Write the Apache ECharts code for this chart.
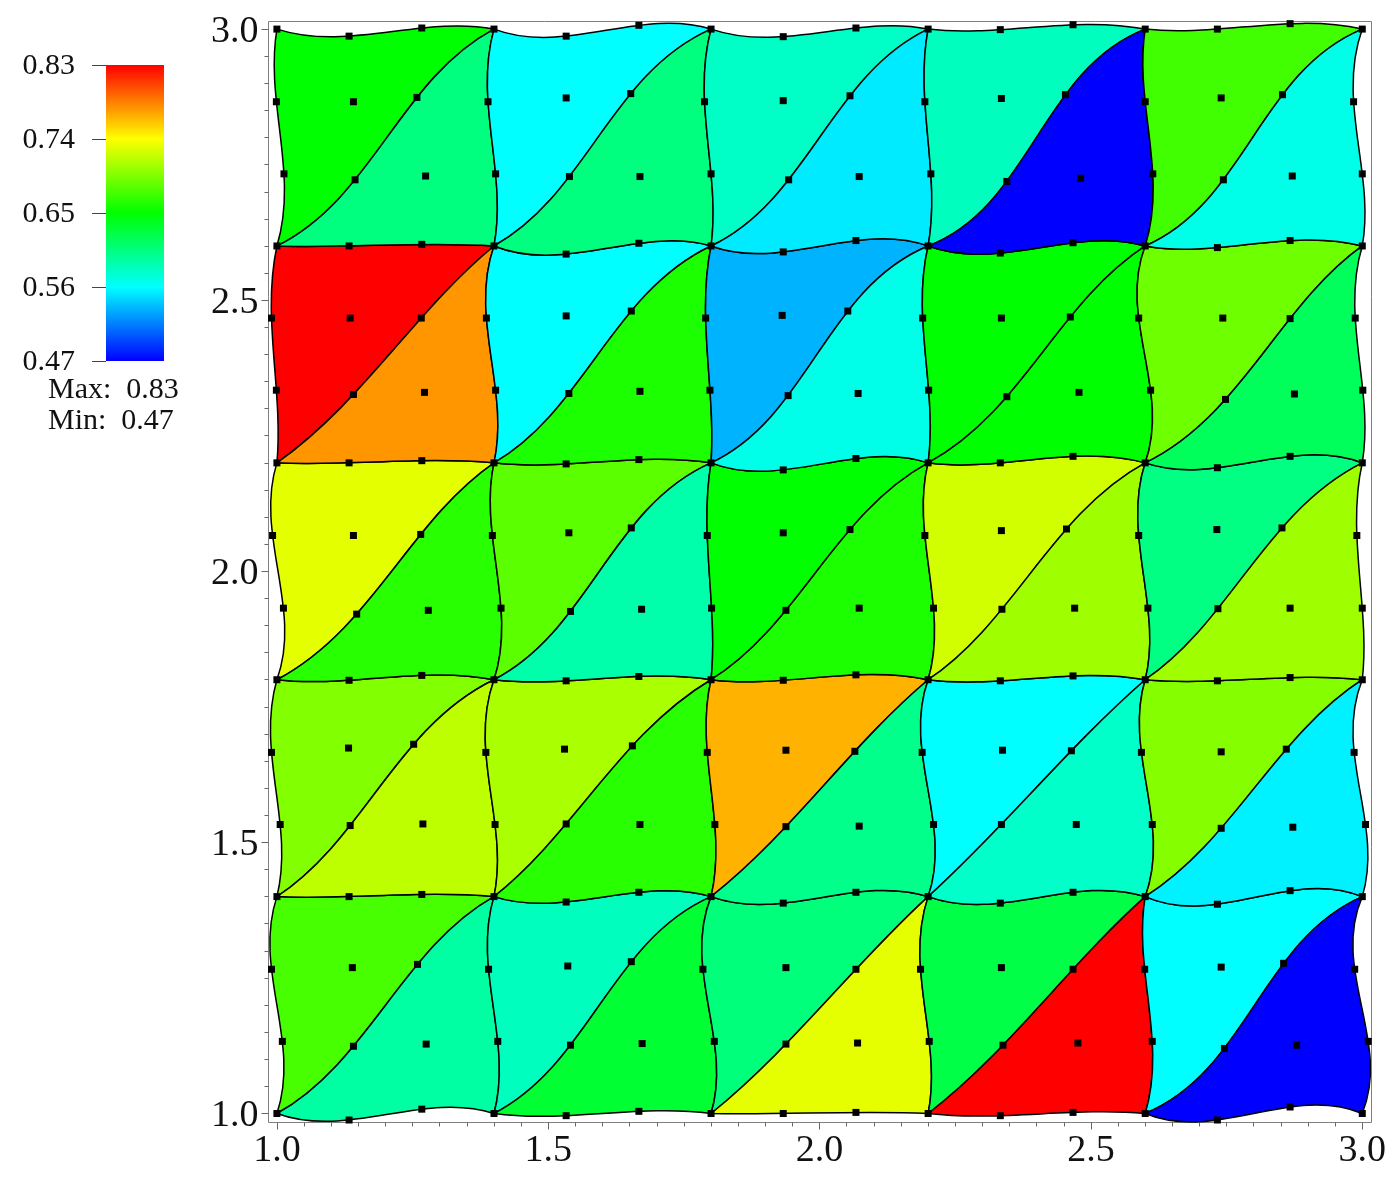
<!DOCTYPE html>
<html lang="en">
<head>
  <meta charset="utf-8"/>
  <title>Cubic triangle mesh</title>
  <script src="https://cdn.jsdelivr.net/npm/echarts@6/dist/echarts.min.js"></script>
  <style>
    html, body { margin: 0; padding: 0; background: #fff; }
  </style>
</head>
<body>
<div id="main" style="width: 1400px;height: 1177px"></div>
<script type="text/javascript">
  // mesh nodes, bottom row first, 16 x 16
  var nodeX = [
    [1.000, 1.133, 1.267, 1.400, 1.533, 1.667, 1.800, 1.933, 2.067, 2.200, 2.333, 2.467, 2.600, 2.733, 2.867, 3.000],
    [1.010, 1.141, 1.275, 1.407, 1.541, 1.673, 1.806, 1.938, 2.070, 2.202, 2.338, 2.476, 2.613, 2.746, 2.879, 3.011],
    [0.990, 1.139, 1.259, 1.390, 1.536, 1.653, 1.785, 1.938, 2.067, 2.186, 2.335, 2.467, 2.599, 2.740, 2.855, 2.986],
    [1.000, 1.133, 1.267, 1.400, 1.533, 1.667, 1.800, 1.933, 2.067, 2.200, 2.333, 2.467, 2.600, 2.733, 2.867, 3.000],
    [1.006, 1.135, 1.269, 1.402, 1.533, 1.669, 1.807, 1.938, 2.073, 2.210, 2.335, 2.473, 2.613, 2.740, 2.872, 3.006],
    [0.990, 1.132, 1.252, 1.385, 1.530, 1.655, 1.793, 1.938, 2.065, 2.189, 2.337, 2.464, 2.593, 2.740, 2.860, 2.985],
    [1.000, 1.133, 1.267, 1.400, 1.533, 1.667, 1.800, 1.933, 2.067, 2.200, 2.333, 2.467, 2.600, 2.733, 2.867, 3.000],
    [1.012, 1.147, 1.279, 1.413, 1.541, 1.672, 1.801, 1.938, 2.073, 2.210, 2.336, 2.470, 2.605, 2.734, 2.867, 3.000],
    [0.992, 1.141, 1.265, 1.397, 1.538, 1.653, 1.793, 1.933, 2.056, 2.194, 2.335, 2.455, 2.588, 2.732, 2.852, 2.990],
    [1.000, 1.133, 1.267, 1.400, 1.533, 1.667, 1.800, 1.933, 2.067, 2.200, 2.333, 2.467, 2.600, 2.733, 2.867, 3.000],
    [0.999, 1.141, 1.272, 1.403, 1.538, 1.669, 1.798, 1.942, 2.071, 2.201, 2.345, 2.478, 2.610, 2.748, 2.875, 3.001],
    [0.990, 1.135, 1.266, 1.386, 1.533, 1.653, 1.790, 1.931, 2.052, 2.190, 2.335, 2.462, 2.588, 2.743, 2.867, 2.987],
    [1.000, 1.133, 1.267, 1.400, 1.533, 1.667, 1.800, 1.933, 2.067, 2.200, 2.333, 2.467, 2.600, 2.733, 2.867, 3.000],
    [1.013, 1.144, 1.274, 1.403, 1.539, 1.669, 1.800, 1.943, 2.073, 2.205, 2.345, 2.481, 2.614, 2.744, 2.871, 3.000],
    [0.999, 1.141, 1.258, 1.389, 1.533, 1.652, 1.788, 1.933, 2.056, 2.194, 2.335, 2.453, 2.600, 2.740, 2.853, 2.984],
    [1.000, 1.133, 1.267, 1.400, 1.533, 1.667, 1.800, 1.933, 2.067, 2.200, 2.333, 2.467, 2.600, 2.733, 2.867, 3.000]
  ];
  var nodeY = [
    [1.000, 0.988, 1.008, 1.000, 0.996, 1.004, 1.000, 1.000, 1.002, 1.000, 0.996, 1.002, 1.000, 0.988, 1.012, 1.000],
    [1.133, 1.124, 1.128, 1.133, 1.126, 1.129, 1.133, 1.128, 1.130, 1.133, 1.126, 1.130, 1.133, 1.120, 1.126, 1.133],
    [1.266, 1.269, 1.275, 1.266, 1.272, 1.280, 1.266, 1.269, 1.266, 1.266, 1.269, 1.266, 1.266, 1.270, 1.277, 1.266],
    [1.400, 1.400, 1.404, 1.400, 1.390, 1.408, 1.400, 1.388, 1.408, 1.400, 1.388, 1.408, 1.400, 1.386, 1.411, 1.400],
    [1.533, 1.531, 1.534, 1.533, 1.534, 1.533, 1.533, 1.529, 1.530, 1.533, 1.533, 1.533, 1.533, 1.526, 1.528, 1.533],
    [1.666, 1.674, 1.681, 1.666, 1.672, 1.678, 1.666, 1.670, 1.668, 1.666, 1.670, 1.669, 1.666, 1.667, 1.672, 1.666],
    [1.800, 1.799, 1.808, 1.800, 1.798, 1.806, 1.800, 1.799, 1.809, 1.800, 1.798, 1.807, 1.800, 1.798, 1.804, 1.800],
    [1.932, 1.921, 1.928, 1.932, 1.926, 1.930, 1.932, 1.928, 1.932, 1.932, 1.930, 1.932, 1.932, 1.931, 1.932, 1.932],
    [2.066, 2.066, 2.068, 2.066, 2.071, 2.080, 2.066, 2.071, 2.077, 2.066, 2.075, 2.078, 2.066, 2.077, 2.080, 2.066],
    [2.200, 2.200, 2.204, 2.200, 2.198, 2.206, 2.200, 2.187, 2.208, 2.200, 2.200, 2.212, 2.200, 2.191, 2.212, 2.200],
    [2.334, 2.326, 2.330, 2.334, 2.328, 2.332, 2.334, 2.324, 2.328, 2.334, 2.322, 2.330, 2.334, 2.317, 2.327, 2.334],
    [2.467, 2.467, 2.467, 2.467, 2.471, 2.480, 2.467, 2.472, 2.480, 2.467, 2.467, 2.469, 2.467, 2.467, 2.466, 2.467],
    [2.600, 2.600, 2.603, 2.600, 2.585, 2.605, 2.600, 2.589, 2.610, 2.600, 2.587, 2.606, 2.600, 2.597, 2.610, 2.600],
    [2.733, 2.722, 2.729, 2.733, 2.728, 2.728, 2.733, 2.722, 2.728, 2.733, 2.719, 2.725, 2.733, 2.722, 2.729, 2.733],
    [2.866, 2.866, 2.874, 2.866, 2.873, 2.881, 2.866, 2.868, 2.877, 2.866, 2.872, 2.879, 2.866, 2.873, 2.879, 2.866],
    [3.000, 2.987, 3.002, 3.000, 2.987, 3.007, 3.000, 2.986, 3.002, 3.000, 2.999, 3.008, 3.000, 3.000, 3.010, 3.000]
  ];
  // element values, bottom row of squares first, [upper-left, lower-right] per square
  var upperValues = [
    [0.675, 0.583, 0.607, 0.625, 0.560],
    [0.696, 0.710, 0.767, 0.560, 0.697],
    [0.730, 0.682, 0.650, 0.724, 0.604],
    [0.830, 0.560, 0.533, 0.650, 0.689],
    [0.650, 0.560, 0.580, 0.583, 0.673]
  ];
  var lowerValues = [
    [0.593, 0.632, 0.731, 0.830, 0.470],
    [0.717, 0.664, 0.601, 0.579, 0.555],
    [0.664, 0.590, 0.660, 0.706, 0.706],
    [0.777, 0.660, 0.568, 0.650, 0.618],
    [0.605, 0.605, 0.553, 0.470, 0.568]
  ];
  var majorTicks = [1.0, 1.5, 2.0, 2.5, 3.0];
  var minorTicks = [1.0, 1.05, 1.1, 1.15, 1.2, 1.25, 1.3, 1.35, 1.4, 1.45, 1.5, 1.55, 1.6, 1.65, 1.7, 1.75, 1.8, 1.85, 1.9, 1.95,
    2.0, 2.05, 2.1, 2.15, 2.2, 2.25, 2.3, 2.35, 2.4, 2.45, 2.5, 2.55, 2.6, 2.65, 2.7, 2.75, 2.8, 2.85, 2.9, 2.95, 3.0];
  var barTicks = [0.47, 0.56, 0.65, 0.74, 0.83];
  var rampColors = ['#0000ff', '#00ffff', '#00ff00', '#ffff00', '#ff0000'];
  var minValue = 0.47;
  var maxValue = 0.83;

  var font = '"Liberation Serif", serif';
  var myChart = echarts.init(document.getElementById('main'));

  // one item per triangle: [col, row, isUpper, value]
  var triangles = [];
  for (var r = 0; r < 5; r++) {
    for (var c = 0; c < 5; c++) {
      triangles.push([c, r, 1, upperValues[r][c]]);
      triangles.push([c, r, 0, lowerValues[r][c]]);
    }
  }
  var points = [];
  for (var j = 0; j < 16; j++) {
    for (var i = 0; i < 16; i++) {
      points.push([nodeX[j][i], nodeY[j][i]]);
    }
  }

  // cubic edge through 4 nodes (at t = 0, 1/3, 2/3, 1) as a bezier segment, start point already drawn
  function edge(p) {
    var c1x = (-5 * p[0][0] + 18 * p[1][0] - 9 * p[2][0] + 2 * p[3][0]) / 6;
    var c1y = (-5 * p[0][1] + 18 * p[1][1] - 9 * p[2][1] + 2 * p[3][1]) / 6;
    var c2x = (2 * p[0][0] - 9 * p[1][0] + 18 * p[2][0] - 5 * p[3][0]) / 6;
    var c2y = (2 * p[0][1] - 9 * p[1][1] + 18 * p[2][1] - 5 * p[3][1]) / 6;
    return 'C' + c1x + ' ' + c1y + ' ' + c2x + ' ' + c2y + ' ' + p[3][0] + ' ' + p[3][1];
  }

  function renderTriangle(params, api) {
    var a = api.value(0) * 3;
    var b = api.value(1) * 3;
    var upper = api.value(2) === 1;
    var node = function (i, j) {
      return api.coord([nodeX[b + j][a + i], nodeY[b + j][a + i]]);
    };
    var diag = [node(0, 0), node(1, 1), node(2, 2), node(3, 3)];
    var d = 'M' + diag[0][0] + ' ' + diag[0][1] + edge(diag);
    if (upper) {
      d += edge([node(3, 3), node(2, 3), node(1, 3), node(0, 3)]);
      d += edge([node(0, 3), node(0, 2), node(0, 1), node(0, 0)]);
    } else {
      d += edge([node(3, 3), node(3, 2), node(3, 1), node(3, 0)]);
      d += edge([node(3, 0), node(2, 0), node(1, 0), node(0, 0)]);
    }
    return {
      type: 'path',
      shape: { pathData: d + 'Z' },
      style: { fill: api.visual('color'), stroke: '#000', lineWidth: 1.5 }
    };
  }

  // colour bar, the visualMap's own bar has rounded corners
  function renderBar(params, api) {
    var p0 = api.coord([0, api.value(0)]);
    var p1 = api.coord([1, api.value(1)]);
    var stops = rampColors.map(function (col, k) {
      return { offset: k / (rampColors.length - 1), color: col };
    });
    return {
      type: 'rect',
      shape: { x: p0[0], y: p1[1], width: p1[0] - p0[0], height: p0[1] - p1[1] },
      style: { fill: new echarts.graphic.LinearGradient(0, 1, 0, 0, stops) }
    };
  }

  var tickLabel = { color: '#111', fontFamily: font, fontSize: 38 };

  var option = {
    animation: false,
    backgroundColor: '#fff',
    grid: [
      { left: 268.5, top: 21.5, width: 1103, height: 1101, show: true, borderColor: '#808080', borderWidth: 1, backgroundColor: 'transparent' },
      { left: 106, top: 65, width: 58, height: 296 }
    ],
    xAxis: [
      {
        gridIndex: 0, type: 'value', position: 'bottom', min: 0.9845, max: 3.017, splitLine: { show: false },
        axisLine: { show: false },
        axisTick: { length: 7, customValues: majorTicks, lineStyle: { color: '#666' } },
        axisLabel: Object.assign({ margin: 10, customValues: majorTicks, formatter: function (v) { return v.toFixed(1); } }, tickLabel)
      },
      {
        gridIndex: 0, type: 'value', position: 'bottom', min: 0.9845, max: 3.017, splitLine: { show: false },
        axisLine: { show: false }, axisLabel: { show: false },
        axisTick: { length: 4, customValues: minorTicks, lineStyle: { color: '#666' } }
      },
      { gridIndex: 1, type: 'value', show: false, min: 0, max: 1 }
    ],
    yAxis: [
      {
        gridIndex: 0, type: 'value', position: 'left', min: 0.9834, max: 3.014, splitLine: { show: false },
        axisLine: { show: false },
        axisTick: { length: 7, customValues: majorTicks, lineStyle: { color: '#666' } },
        axisLabel: {
          margin: 10,
          customValues: majorTicks,
          formatter: function (v) { return '{a|' + v.toFixed(1) + '}'; },
          rich: { a: { color: '#111', fontFamily: font, fontSize: 38, padding: [5, 0, 0, 0] } }
        }
      },
      {
        gridIndex: 0, type: 'value', position: 'left', min: 0.9834, max: 3.014, splitLine: { show: false },
        axisLine: { show: false }, axisLabel: { show: false },
        axisTick: { length: 4, customValues: minorTicks, lineStyle: { color: '#666' } }
      },
      {
        gridIndex: 1, type: 'value', min: minValue, max: maxValue, splitLine: { show: false },
        axisLine: { show: false },
        axisTick: { length: 14, customValues: barTicks, lineStyle: { color: '#444' } },
        axisLabel: {
          margin: 31,
          customValues: barTicks,
          formatter: function (v) { return '{a|' + v.toFixed(2) + '}'; },
          rich: { a: { color: '#111', fontFamily: font, fontSize: 30, padding: [3, 0, 0, 0] } }
        }
      }
    ],
    visualMap: {
      type: 'continuous',
      show: false,
      seriesIndex: 0,
      dimension: 3,
      min: minValue,
      max: maxValue,
      inRange: { color: rampColors }
    },
    graphic: [
      { type: 'text', left: 48, top: 375, style: { text: 'Max:  ' + maxValue.toFixed(2), font: '30px ' + font, fill: '#111' } },
      { type: 'text', left: 48, top: 406, style: { text: 'Min:  ' + minValue.toFixed(2), font: '30px ' + font, fill: '#111' } }
    ],
    series: [
      {
        type: 'custom',
        xAxisIndex: 0,
        yAxisIndex: 0,
        renderItem: renderTriangle,
        dimensions: ['col', 'row', 'upper', 'value'],
        encode: { x: [], y: [] },
        data: triangles,
        silent: true,
        z: 2
      },
      {
        type: 'scatter',
        xAxisIndex: 0,
        yAxisIndex: 0,
        symbol: 'rect',
        symbolSize: 7,
        itemStyle: { color: '#000', opacity: 1 },
        data: points,
        silent: true,
        z: 3
      },
      {
        type: 'custom',
        xAxisIndex: 2,
        yAxisIndex: 2,
        renderItem: renderBar,
        encode: { x: [], y: [0, 1] },
        data: [[minValue, maxValue]],
        silent: true
      }
    ]
  };
  myChart.setOption(option);
</script>
</body>
</html>
